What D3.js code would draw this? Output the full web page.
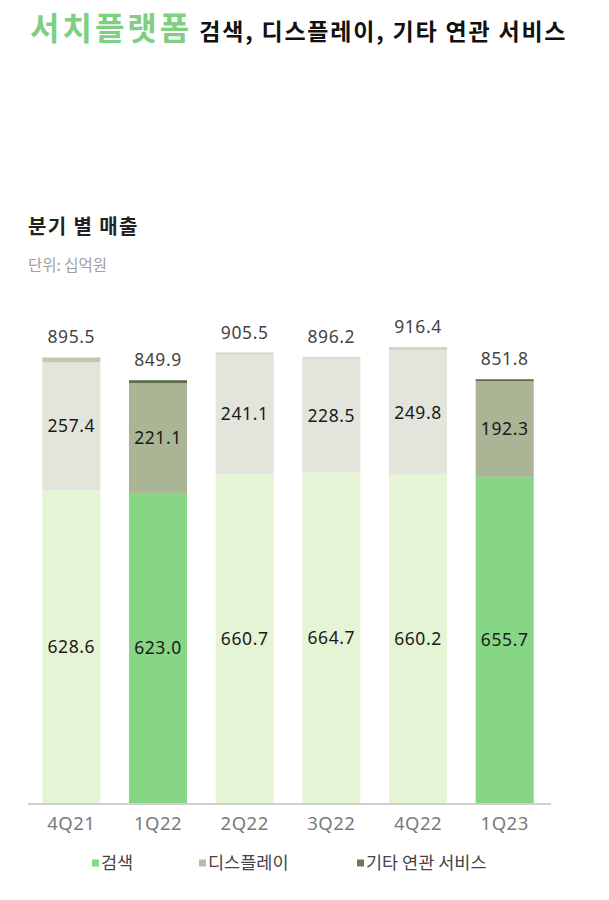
<!DOCTYPE html>
<html>
<head>
<meta charset="utf-8">
<script src="https://cdn.jsdelivr.net/npm/d3@7"></script>
<style>
  body { margin: 0; background: #fff; }
  text { font-family: "Noto Sans CJK KR", "Noto Sans", sans-serif; }
</style>
</head>
<body>
<div class="chart"></div>
<script>
// data (단위: 십억원)
const quarters = ["4Q21", "1Q22", "2Q22", "3Q22", "4Q22", "1Q23"];
const search = [628.6, 623.0, 660.7, 664.7, 660.2, 655.7];
const display = [257.4, 221.1, 241.1, 228.5, 249.8, 192.3];
const totals = [895.5, 849.9, 905.5, 896.2, 916.4, 851.8];
const highlighted = ["1Q22", "1Q23"];
const seriesNames = ["검색", "디스플레이", "기타 연관 서비스"];

// 기타 = total - 검색 - 디스플레이
const rows = quarters.map((q, i) => ({
  q,
  search: search[i],
  display: display[i],
  other: +(totals[i] - search[i] - display[i]).toFixed(1),
  total: totals[i]
}));

const width = 609, height = 900;
const svg = d3.select(".chart").append("svg")
  .attr("width", width)
  .attr("height", height);

// colours: [normal, highlighted]
const colors = {
  search: ["#e5f4d5", "#86d686"],
  display: ["#e3e5dc", "#a9b594"],
  other: ["#d2d3c6", "#5e6e4d"]
};
const otherFirst = "#c8c3b3";

const x = d3.scaleBand().domain(quarters).range([28, 548]).paddingInner(0.33).paddingOuter(0.165);
const y = d3.scaleLinear().domain([0, 1000]).range([803, 305.5]);

const keys = ["search", "display", "other"];
const stacked = d3.stack().keys(keys)(rows);

// title
const title = svg.append("text").attr("x", 30).attr("y", 40);
title.append("tspan").text("서치플랫폼")
  .attr("font-size", 32).attr("font-weight", 700).attr("fill", "#7fcf82")
  .attr("letter-spacing", 3);
title.append("tspan").text(" 검색, 디스플레이, 기타 연관 서비스")
  .attr("font-size", 23).attr("font-weight", 700).attr("fill", "#111")
  .attr("letter-spacing", 1.8);

svg.append("text").attr("x", 28).attr("y", 234)
  .attr("font-size", 20).attr("font-weight", 700).attr("fill", "#222")
  .attr("letter-spacing", 1.4)
  .text("분기 별 매출");
svg.append("text").attr("x", 28).attr("y", 271)
  .attr("font-size", 15.5).attr("fill", "#a0a0a0")
  .text("단위: 십억원");

// bars
svg.selectAll("g.layer")
  .data(stacked)
  .join("g")
  .attr("class", "layer")
  .selectAll("rect")
  .data(d => d.map(v => ({ key: d.key, v })))
  .join("rect")
  .attr("x", d => x(d.v.data.q))
  .attr("width", x.bandwidth())
  .attr("y", d => y(d.v[1]))
  .attr("height", d => y(d.v[0]) - y(d.v[1]))
  .attr("fill", d => {
    const hi = highlighted.includes(d.v.data.q) ? 1 : 0;
    if (d.key === "other" && !hi && d.v.data.q === quarters[0]) return otherFirst;
    return colors[d.key][hi];
  });

// segment labels
const segLabels = [];
stacked.filter(s => s.key !== "other").forEach(s => {
  s.forEach(v => segLabels.push({ q: v.data.q, mid: (v[0] + v[1]) / 2, key: s.key }));
});
svg.selectAll("text.seg")
  .data(segLabels)
  .join("text")
  .attr("class", "seg")
  .attr("x", d => x(d.q) + x.bandwidth() / 2)
  .attr("y", d => y(d.mid))
  .attr("dy", "0.35em")
  .attr("text-anchor", "middle")
  .attr("font-size", 17.5)
  .attr("letter-spacing", 0.6)
  .attr("fill", "#1a1a1a")
  .style("font-family", "\"Noto Sans\", sans-serif")
  .text(d => {
    const r = rows.find(r => r.q === d.q);
    return d3.format(".1f")(d.key === "search" ? r.search : r.display);
  });

// totals
svg.selectAll("text.total")
  .data(rows)
  .join("text")
  .attr("class", "total")
  .attr("x", d => x(d.q) + x.bandwidth() / 2)
  .attr("y", d => y(d.total) - 14)
  .attr("text-anchor", "middle")
  .attr("font-size", 17.5)
  .attr("letter-spacing", 0.6)
  .attr("fill", "#444")
  .style("font-family", "\"Noto Sans\", sans-serif")
  .text(d => d3.format(".1f")(d.total));

// x axis
const xAxis = svg.append("g").attr("transform", `translate(0, ${y(0)})`)
  .call(d3.axisBottom(x).tickSize(0).tickPadding(14));
xAxis.select(".domain").remove();
xAxis.selectAll("text").attr("font-size", 18.5).attr("fill", "#7a7a7a")
  .attr("letter-spacing", 0.5)
  .style("font-family", "\"Noto Sans\", sans-serif");
svg.append("line")
  .attr("x1", 28).attr("x2", 551)
  .attr("y1", y(0) + 1).attr("y2", y(0) + 1)
  .attr("stroke", "#cfcfcf").attr("stroke-width", 2);

// legend
const legendX = [92, 199, 357];
const legendColors = ["#86d686", "#b3bd9f", "#6b7b59"];
const legend = svg.selectAll("g.legend")
  .data(seriesNames)
  .join("g")
  .attr("class", "legend")
  .attr("transform", (d, i) => `translate(${legendX[i]}, 863)`);
legend.append("rect")
  .attr("x", 0).attr("y", -3.5).attr("width", 7).attr("height", 7)
  .attr("fill", (d, i) => legendColors[i]);
legend.append("text")
  .attr("x", 9).attr("dy", "0.35em")
  .attr("font-size", 17.5).attr("fill", "#444")
  .text(d => d);
</script>
</body>
</html>
